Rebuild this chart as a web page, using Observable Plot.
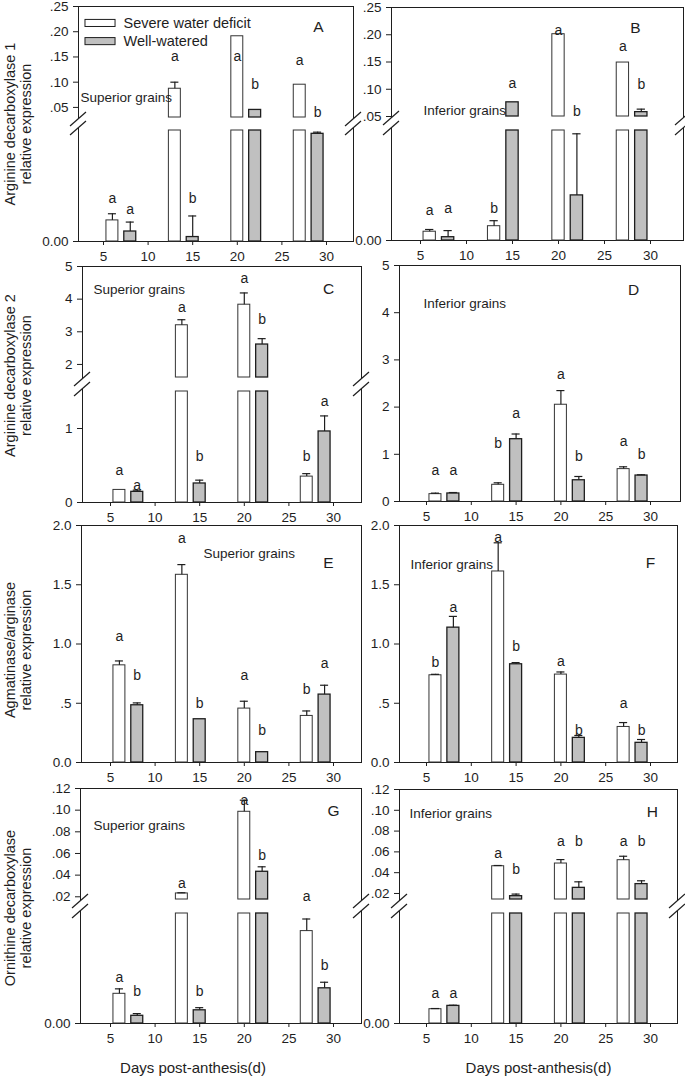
<!DOCTYPE html>
<html>
<head>
<meta charset="utf-8">
<script src="https://cdn.jsdelivr.net/npm/d3@7"></script>
<script src="https://cdn.jsdelivr.net/npm/@observablehq/plot@0.6"></script>
<style>
  body { margin: 0; background: #fff; }
  #fig { position: relative; width: 685px; height: 1076px; overflow: hidden; background: #fff; }
</style>
</head>
<body>
<div id="fig"></div>
<script>
// ---------------- data ----------------
const sampleDays = [7, 14, 21, 28];
const treatments = ["Severe water deficit", "Well-watered"];
const xTicks = [5, 10, 15, 20, 25, 30];

// y tick values and labels
const ticksAB = [0, 0.05, 0.10, 0.15, 0.20, 0.25];
const ticksABLabels = ["0.00", ".05", ".10", ".15", ".20", ".25"];
const ticksCD = [0, 1, 2, 3, 4, 5];
const ticksCDLabels = ["0", "1", "2", "3", "4", "5"];
const ticksEF = [0, 0.5, 1.0, 1.5, 2.0];
const ticksEFLabels = ["0.0", ".5", "1.0", "1.5", "2.0"];
const ticksGH = [0, 0.02, 0.04, 0.06, 0.08, 0.10, 0.12];
const ticksGHLabels = ["0.00", ".02", ".04", ".06", ".08", ".10", ".12"];

// A: Arginine decarboxylase 1, superior grains
const adc1SupDeficit   = [0.0019, 0.087, 0.191, 0.095];
const adc1SupDeficitSE = [0.0006, 0.013, 0, 0];
const adc1SupWatered   = [0.0009, 0.0004, 0.045, 0.0097];
const adc1SupWateredSE = [0.00085, 0.0019, 0, 0.00015];
const adc1SupLetters   = ["a","a", "a","b", "a","b", "a","b"];
const adc1SupLetterY   = [0.0039,0.0029, 0.15,0.0039, 0.15,0.095, 0.143,0.04];

// B: Arginine decarboxylase 1, inferior grains
const adc1InfDeficit   = [0.0008, 0.0013, 0.201, 0.149];
const adc1InfDeficitSE = [0.0002, 0.0005, 0, 0];
const adc1InfWatered   = [0.0003, 0.076, 0.0041, 0.058];
const adc1InfWateredSE = [0.0006, 0, 0.0056, 0.0055];
const adc1InfLetters   = ["a","a", "b","a", "a","b", "a","b"];
const adc1InfLetterY   = [0.0027,0.0029, 0.0029,0.11, 0.2085,0.059, 0.178,0.108];

// C: Arginine decarboxylase 2, superior grains
const adc2SupDeficit   = [0.17, 3.2, 3.83, 0.35];
const adc2SupDeficitSE = [0, 0.17, 0.36, 0.04];
const adc2SupWatered   = [0.144, 0.257, 2.61, 0.96];
const adc2SupWateredSE = [0.023, 0.045, 0.18, 0.21];
const adc2SupLetters   = ["a","a", "a","b", "a","b", "b","a"];
const adc2SupLetterY   = [0.43,0.225, 3.73,0.62, 4.62,3.37, 0.62,1.365];

// D: Arginine decarboxylase 2, inferior grains
const adc2InfDeficit   = [0.156, 0.354, 2.05, 0.686];
const adc2InfDeficitSE = [0.021, 0.042, 0.30, 0.049];
const adc2InfWatered   = [0.17, 1.32, 0.45, 0.55];
const adc2InfWateredSE = [0.02, 0.11, 0.08, 0.016];
const adc2InfLetters   = ["a","a", "b","a", "a","b", "a","b"];
const adc2InfLetterY   = [0.65,0.65, 1.22,1.87, 2.69,0.95, 1.27,0.99];

// E: Agmatinase/arginase, superior grains
const agmSupDeficit   = [0.82, 1.584, 0.455, 0.393];
const agmSupDeficitSE = [0.037, 0.086, 0.062, 0.042];
const agmSupWatered   = [0.483, 0.365, 0.087, 0.573];
const agmSupWateredSE = [0.02, 0, 0, 0.079];
const agmSupLetters   = ["a","b", "a","b", "a","b", "b","a"];
const agmSupLetterY   = [1.065,0.73, 1.89,0.5, 0.73,0.272, 0.618,0.834];

// F: Agmatinase/arginase, inferior grains
const agmInfDeficit   = [0.736, 1.612, 0.742, 0.30];
const agmInfDeficitSE = [0.008, 0.242, 0.022, 0.037];
const agmInfWatered   = [1.138, 0.829, 0.208, 0.166];
const agmInfWateredSE = [0.095, 0.014, 0.02, 0.028];
const agmInfLetters   = ["b","a", "a","b", "a","b", "a","b"];
const agmInfLetterY   = [0.843,1.312, 1.9,0.975, 0.848,0.272, 0.497,0.272];

// G: Ornithine decarboxylase, superior grains
const odcSupDeficit   = [0.0027, 0.0231, 0.0985, 0.0084];
const odcSupDeficitSE = [0.00045, 0.0006, 0.0107, 0.0011];
const odcSupWatered   = [0.0007, 0.0012, 0.0431, 0.0032];
const odcSupWateredSE = [0.0002, 0.00024, 0.0046, 0.00055];
const odcSupLetters   = ["a","b", "a","b", "a","b", "a","b"];
const odcSupLetterY   = [0.0042,0.0029, 0.0323,0.0029, 0.109,0.0585, 0.02,0.0053];

// H: Ornithine decarboxylase, inferior grains
const odcInfDeficit   = [0.0013, 0.0462, 0.0488, 0.052];
const odcInfDeficitSE = [0.00006, 0.0007, 0.0038, 0.0038];
const odcInfWatered   = [0.0016, 0.0174, 0.0254, 0.029];
const odcInfWateredSE = [0.00006, 0.002, 0.0058, 0.0032];
const odcInfLetters   = ["a","a", "a","b", "a","b", "a","b"];
const odcInfLetterY   = [0.0027,0.0027, 0.0584,0.043, 0.0696,0.0696, 0.0696,0.0696];

// ---------------- style / layout ----------------
const INK = "#1e1e1e";
const FILLS = ["#ffffff", "#c0c0c0"];
const HALF = 0.67, CAP = 0.45, DODGE = 1;
const FONT = "'Liberation Sans', Arial, Helvetica, sans-serif";

const panels = [
  {col:0, L:78, R:353, T:6, B:241, t5:103, t30:326, top:0.25, brk:[0.01,0.03], brkPx:[130,117],
   ticks:ticksAB, tickLabels:ticksABLabels,
   deficit:adc1SupDeficit, deficitSE:adc1SupDeficitSE, watered:adc1SupWatered, wateredSE:adc1SupWateredSE,
   letters:adc1SupLetters, letterY:adc1SupLetterY,
   grain:{text:"Superior grains", x:2.42, y:0.069}, tag:{text:"A", x:29.1, y:0.21},
   ytitle:"Arginine decarboxylase 1\nrelative expression", ytDx:-61, ytDy:0,
   legend:{x1:2.98, x2:6.35, tx:7.24, rows:[{y1:0.2234, y2:0.2094, ty:0.2164},{y1:0.1874, y2:0.1734, ty:0.1804}]}},
  {col:1, L:391, R:683, T:7, B:240, t5:420, t30:650, top:0.25, brk:[0.01,0.05], brkPx:[130,116],
   ticks:ticksAB, tickLabels:ticksABLabels,
   deficit:adc1InfDeficit, deficitSE:adc1InfDeficitSE, watered:adc1InfWatered, wateredSE:adc1InfWateredSE,
   letters:adc1InfLetters, letterY:adc1InfLetterY,
   grain:{text:"Inferior grains", x:5.33, y:0.0606}, tag:{text:"B", x:28.37, y:0.213}},
  {col:0, L:82, R:361, T:266, B:502, t5:110, t30:333, top:5, brk:[1.5,1.6], brkPx:[391,377],
   ticks:ticksCD, tickLabels:ticksCDLabels,
   deficit:adc2SupDeficit, deficitSE:adc2SupDeficitSE, watered:adc2SupWatered, wateredSE:adc2SupWateredSE,
   letters:adc2SupLetters, letterY:adc2SupLetterY,
   grain:{text:"Superior grains", x:3.09, y:4.30}, tag:{text:"C", x:29.44, y:4.30},
   ytitle:"Arginine decarboxylase 2\nrelative expression", ytDx:-65, ytDy:-9},
  {col:1, L:399, R:680, T:265, B:501, t5:426, t30:650, top:5,
   ticks:ticksCD, tickLabels:ticksCDLabels,
   deficit:adc2InfDeficit, deficitSE:adc2InfDeficitSE, watered:adc2InfWatered, wateredSE:adc2InfWateredSE,
   letters:adc2InfLetters, letterY:adc2InfLetterY,
   grain:{text:"Inferior grains", x:4.67, y:4.19}, tag:{text:"D", x:28.1, y:4.49}},
  {col:0, L:81, R:361, T:525, B:762, t5:110, t30:333, top:2,
   ticks:ticksEF, tickLabels:ticksEFLabels,
   deficit:agmSupDeficit, deficitSE:agmSupDeficitSE, watered:agmSupWatered, wateredSE:agmSupWateredSE,
   letters:agmSupLetters, letterY:agmSupLetterY,
   grain:{text:"Superior grains", x:15.43, y:1.764}, tag:{text:"E", x:29.44, y:1.68},
   ytitle:"Agmatinase/arginase\nrelative expression", ytDx:-64, ytDy:6},
  {col:1, L:399, R:677, T:525, B:762, t5:426, t30:650, top:2,
   ticks:ticksEF, tickLabels:ticksEFLabels,
   deficit:agmInfDeficit, deficitSE:agmInfDeficitSE, watered:agmInfWatered, wateredSE:agmInfWateredSE,
   letters:agmInfLetters, letterY:agmInfLetterY,
   grain:{text:"Inferior grains", x:3.21, y:1.671}, tag:{text:"F", x:30.0, y:1.68}},
  {col:0, L:80, R:361, T:788, B:1023, t5:110, t30:333, top:0.12, brk:[0.01,0.0175], brkPx:[913,899],
   ticks:ticksGH, tickLabels:ticksGHLabels,
   deficit:odcSupDeficit, deficitSE:odcSupDeficitSE, watered:odcSupWatered, wateredSE:odcSupWateredSE,
   letters:odcSupLetters, letterY:odcSupLetterY,
   grain:{text:"Superior grains", x:3.09, y:0.086}, tag:{text:"G", x:30.0, y:0.0989},
   ytitle:"Ornithine decarboxylase\nrelative expression", ytDx:-63, ytDy:2,
   xtitle:"Days post-anthesis(d)", xtDx:-28},
  {col:1, L:399, R:677, T:789, B:1023, t5:426, t30:650, top:0.12, brk:[0.01,0.0142], brkPx:[913,899],
   ticks:ticksGH, tickLabels:ticksGHLabels,
   deficit:odcInfDeficit, deficitSE:odcInfDeficitSE, watered:odcInfWatered, wateredSE:odcInfWateredSE,
   letters:odcInfLetters, letterY:odcInfLetterY,
   grain:{text:"Inferior grains", x:3.1, y:0.0969}, tag:{text:"H", x:30.2, y:0.0988},
   xtitle:"Days post-anthesis(d)", xtDx:0}
];

function buildPanel(cfg) {
  const svgLeft = cfg.col === 0 ? 0 : 355;
  const width = cfg.col === 0 ? 372 : 330;
  const svgTop = cfg.T - 16;
  const height = cfg.B - svgTop + 60;

  const yDom = cfg.brk ? [0, cfg.brk[0], cfg.brk[1], cfg.top] : [0, cfg.top];
  const yRng = (cfg.brk ? [cfg.B, cfg.brkPx[0], cfg.brkPx[1], cfg.T] : [cfg.B, cfg.T]).map(v => v - svgTop);

  const rows = [];
  sampleDays.forEach((d, i) => {
    rows.push({t:0, day:d - DODGE, v:cfg.deficit[i], se:cfg.deficitSE[i], letter:cfg.letters[2*i], ly:cfg.letterY[2*i]});
    rows.push({t:1, day:d + DODGE, v:cfg.watered[i], se:cfg.wateredSE[i], letter:cfg.letters[2*i+1], ly:cfg.letterY[2*i+1]});
  });
  const pieces = [];
  for (const r of rows) {
    if (cfg.brk) {
      pieces.push({...r, y1:0, y2:Math.min(r.v, cfg.brk[0])});
      if (r.v > cfg.brk[1]) pieces.push({...r, y1:cfg.brk[1], y2:r.v});
    } else {
      pieces.push({...r, y1:0, y2:r.v});
    }
  }
  const errs = rows.filter(r => r.se > 0).map(r => ({...r,
    top: (cfg.brk && r.v < cfg.brk[0]) ? Math.min(r.v + r.se, cfg.brk[0]) : r.v + r.se}));

  const labelOf = new Map(cfg.ticks.map((t, i) => [t, cfg.tickLabels[i]]));

  const marks = [
    Plot.frame({stroke: INK, strokeWidth: 1}),
    Plot.rect(pieces.filter(d => d.t === 0), {x1: d => d.day - HALF, x2: d => d.day + HALF, y1: "y1", y2: "y2",
      fill: FILLS[0], stroke: "#333", strokeWidth: 1}),
    Plot.rect(pieces.filter(d => d.t === 1), {x1: d => d.day - HALF, x2: d => d.day + HALF, y1: "y1", y2: "y2",
      fill: FILLS[1], stroke: INK, strokeWidth: 1.3}),
    Plot.ruleX(errs, {x: "day", y1: "v", y2: "top", stroke: INK, strokeWidth: 1.2}),
    Plot.ruleY(errs, {y: "top", x1: d => d.day - CAP, x2: d => d.day + CAP, stroke: INK, strokeWidth: 1.2}),
    Plot.text(rows, {x: "day", y: "ly", text: "letter", fontSize: 14, fill: INK}),
    Plot.text([cfg.grain], {x: d => d.x, y: d => d.y, text: d => d.text, textAnchor: "start", fontSize: 13.5, fill: INK}),
    Plot.text([cfg.tag], {x: d => d.x, y: d => d.y, text: d => d.text, fontSize: 15.5, fill: INK})
  ];
  if (cfg.legend) {
    const lg = cfg.legend;
    treatments.forEach((name, i) => {
      const row = lg.rows[i];
      marks.push(Plot.rect([name], {x1: () => lg.x1, x2: () => lg.x2, y1: () => row.y1, y2: () => row.y2,
        fill: FILLS[i], stroke: INK, strokeWidth: 1}));
      marks.push(Plot.text([name], {x: () => lg.tx, y: () => row.ty, text: d => d, textAnchor: "start", fontSize: 14.5, fill: INK}));
    });
  }
  if (cfg.ytitle) {
    marks.push(Plot.text([cfg.ytitle], {frameAnchor: "left", textAnchor: "middle", lineAnchor: "middle",
      text: d => d, rotate: -90, dx: cfg.ytDx, dy: cfg.ytDy,
      fontSize: 14.5, lineHeight: 1.15, fill: INK}));
  }
  if (cfg.xtitle) {
    marks.push(Plot.text([cfg.xtitle], {frameAnchor: "bottom", textAnchor: "middle", lineAnchor: "middle",
      text: d => d, dy: 45, dx: cfg.xtDx, fontSize: 15, fill: INK}));
  }

  const svg = Plot.plot({
    width, height,
    marginLeft: cfg.L - svgLeft,
    marginRight: svgLeft + width - cfg.R,
    marginTop: cfg.T - svgTop,
    marginBottom: svgTop + height - cfg.B,
    style: {fontFamily: FONT, fontSize: "13.5px", background: "transparent", overflow: "visible", color: INK},
    x: {domain: [5, 30], range: [cfg.t5 - svgLeft, cfg.t30 - svgLeft], ticks: xTicks, tickSize: 4, tickPadding: 6, label: null},
    y: {type: "linear", domain: yDom, range: yRng, ticks: cfg.ticks, tickFormat: d => labelOf.get(d),
        tickSize: 5, tickPadding: 5, label: null},
    marks
  });

  // axis-break marks on the left axis and right frame edge
  if (cfg.brk) {
    const sel = d3.select(svg);
    const yUp = cfg.brkPx[1] - svgTop + 2, yLo = cfg.brkPx[0] - svgTop - 2;
    for (const xPage of [cfg.L, cfg.R]) {
      const x = xPage - svgLeft;
      sel.append("rect").attr("x", x - 2).attr("y", yUp).attr("width", 4).attr("height", yLo - yUp)
        .attr("fill", "#fff").attr("stroke", "none");
      for (const yc of [yUp, yLo]) {
        sel.append("line").attr("x1", x - 8).attr("y1", yc + 7).attr("x2", x + 8).attr("y2", yc - 7)
          .attr("stroke", INK).attr("stroke-width", 1.2);
      }
    }
  }

  svg.style.position = "absolute";
  svg.style.left = svgLeft + "px";
  svg.style.top = svgTop + "px";
  svg.style.maxWidth = "none";
  return svg;
}

const fig = document.getElementById("fig");
for (const p of panels) fig.appendChild(buildPanel(p));
</script>
</body>
</html>
